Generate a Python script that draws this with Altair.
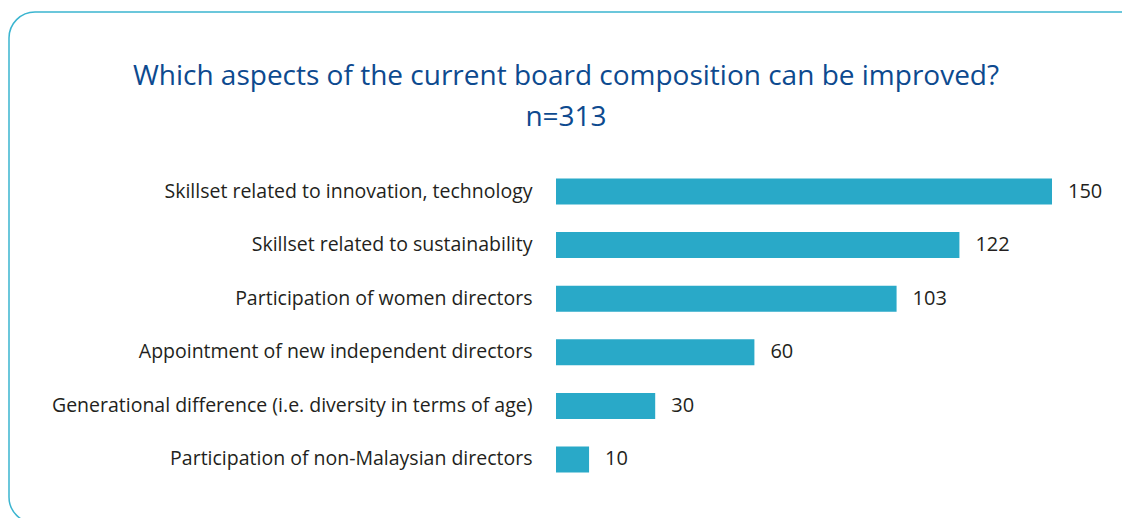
import altair as alt
import pandas as pd

categories = [
    "Skillset related to innovation, technology",
    "Skillset related to sustainability",
    "Participation of women directors",
    "Appointment of new independent directors",
    "Generational difference (i.e. diversity in terms of age)",
    "Participation of non-Malaysian directors",
]
values = [150, 122, 103, 60, 30, 10]
title_line1 = "Which aspects of the current board composition can be improved?"
title_line2 = "n=313"

df = pd.DataFrame({"aspect": categories, "count": values})

FONT = "Open Sans"
BAR = "#29a9c8"
TEXT = "#231f20"
TITLE_COLOR = "#0d4a8f"

y_enc = alt.Y(
    "aspect:N",
    sort=categories,
    title=None,
    scale=alt.Scale(paddingInner=0.51, paddingOuter=0.25),
    axis=alt.Axis(
        domain=False, ticks=False, labelPadding=24, labelFont=FONT,
        labelFontSize=19.5, labelColor=TEXT, labelLimit=600,
    ),
)
x_enc = alt.X("count:Q", scale=alt.Scale(domain=[0, 150], nice=False), axis=None, title=None)

border = alt.Chart(pd.DataFrame({"k": [0]})).mark_rect(
    fill=None, stroke="#3bb5d0", strokeWidth=1.5, cornerRadius=26
).encode(
    x=alt.value(-547), x2=alt.value(590),
    y=alt.value(-153), y2=alt.value(358),
)

t1 = alt.Chart(pd.DataFrame({"t": [title_line1]})).mark_text(
    font=FONT, fontSize=28, color=TITLE_COLOR, align="center", baseline="alphabetic"
).encode(text="t:N", x=alt.value(10), y=alt.value(-80))
t2 = alt.Chart(pd.DataFrame({"t": [title_line2]})).mark_text(
    font=FONT, fontSize=28, color=TITLE_COLOR, align="center", baseline="alphabetic"
).encode(text="t:N", x=alt.value(10), y=alt.value(-39))

bars = alt.Chart(df).mark_bar(color=BAR, size=26).encode(x=x_enc, y=y_enc)
labels = alt.Chart(df).mark_text(
    align="left", baseline="middle", dx=16, font=FONT, fontSize=20, color=TEXT
).encode(x=x_enc, y=y_enc, text="count:Q")

chart = alt.layer(border, t1, t2, bars, labels).properties(
    width=496,
    height=321,
    autosize=alt.AutoSizeParams(type="none"),
    padding={"left": 548, "top": 157, "right": 70, "bottom": 32},
).configure_view(stroke=None)

chart.save("out.html", embed_options={"renderer": "svg", "actions": False})
